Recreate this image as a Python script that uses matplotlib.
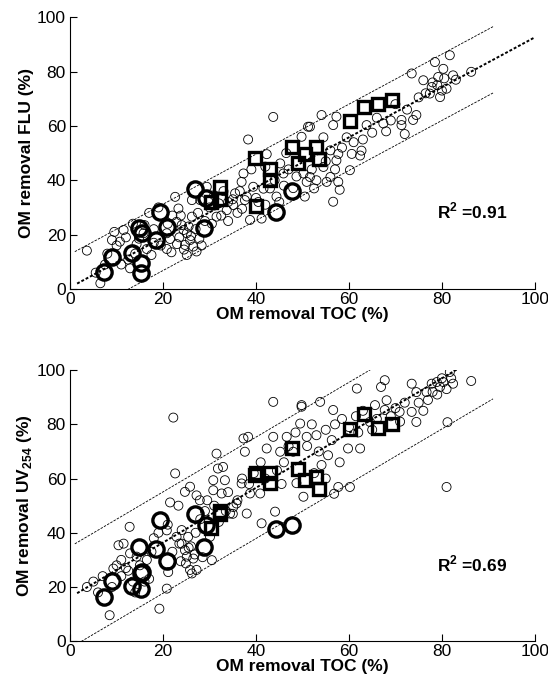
import numpy as np
import matplotlib
matplotlib.use("Agg")
import matplotlib.pyplot as plt

plt.rcParams['font.family'] = ['Liberation Sans', 'DejaVu Sans']
plt.rcParams['mathtext.fontset'] = 'custom'
plt.rcParams['mathtext.rm'] = 'Liberation Sans'
plt.rcParams['mathtext.bf'] = 'Liberation Sans:bold'

# --- background samples (small open circles) ---
fl_toc = [3.6, 6.5, 11.5, 9.0, 10.7, 12.9, 14.3, 16.5, 17.5, 20.8, 21.5, 22.6, 23.3, 22.9, 24.4, 24.7,
          25.1, 25.8, 26.2, 26.5, 27.2, 28.3, 25.1, 26.2, 28.0, 31.5, 33.7, 35.1, 35.5, 37.6, 38.7, 37.3,
          38.3, 36.9, 39.4, 41.2, 41.6, 42.3, 43.7, 45.2, 45.9, 44.4, 48.0, 48.7, 49.8, 51.2, 50.5, 50.9,
          50.2, 20.8, 29.4, 15.8, 12.5, 18.0, 19.5, 23.5, 24.0, 25.5, 27.0, 23.0, 13.5, 10.0, 8.0, 16.0,
          18.0, 22.0, 27.5, 30.0, 31.0, 32.5, 34.0, 36.0, 33.0, 38.0, 40.0, 42.0, 43.0, 44.0, 46.0, 47.0,
          52.0, 45.0, 36.5, 39.0, 42.0, 46.5, 34.0, 30.5, 21.0, 19.0, 17.0, 14.0, 11.0, 7.5, 5.5,
          56.6, 60.2, 57.7, 56.0, 55.2, 51.6, 54.5, 57.3, 57.7, 60.6, 62.4, 62.7, 59.5, 54.5, 57.3, 56.6,
          54.1, 51.6, 63.8, 67.4, 69.0, 71.3, 72.0, 71.3, 74.5, 73.8, 73.5, 76.0, 77.4, 77.8, 78.5, 79.2,
          79.6, 80.3, 81.0, 81.7, 82.4, 86.3, 78.0, 79.0, 80.5, 76.5, 75.0, 80.0, 83.0, 58.5, 61.0, 65.0,
          68.0, 66.0, 70.0, 72.5, 63.0, 56.0, 55.0, 53.0, 58.0, 52.5, 57.0,
          24.5, 26.0, 27.8, 29.0, 21.8, 23.8, 32.0, 35.0, 37.0, 40.5, 12.0, 14.8, 9.5]
fl_flu = [14.1, 2.1, 21.7, 18.0, 17.4, 7.6, 16.5, 14.7, 12.5, 14.7, 18.4, 33.9, 29.6, 24.7, 21.7, 16.2,
          12.5, 18.0, 26.6, 15.6, 13.8, 16.0, 20.5, 32.7, 32.7, 26.6, 29.0, 30.9, 35.2, 32.7, 25.4, 42.5,
          55.0, 39.4, 37.6, 25.9, 36.9, 49.6, 63.3, 46.2, 42.5, 34.0, 37.1, 41.4, 56.0, 59.7, 34.0, 39.4,
          42.5, 20.5, 37.6, 20.5, 10.8, 17.0, 16.0, 19.0, 23.5, 23.0, 22.0, 16.5, 24.0, 16.0, 13.0, 23.5,
          22.0, 27.0, 28.0, 30.0, 34.5, 27.0, 32.0, 28.0, 36.0, 34.0, 33.5, 31.0, 37.0, 40.0, 38.0, 44.0,
          44.0, 32.0, 36.0, 44.0, 45.0, 50.0, 25.0, 24.0, 24.0, 30.0, 28.0, 13.0, 9.0, 9.0, 6.0,
          32.1, 43.7, 39.4, 41.2, 39.4, 41.2, 44.9, 47.3, 49.7, 49.7, 49.1, 50.9, 55.8, 55.8, 63.4, 60.3,
          64.0, 59.7, 60.3, 60.9, 62.0, 62.2, 57.0, 60.3, 64.0, 62.2, 79.3, 76.8, 71.9, 74.3, 83.5, 78.0,
          70.6, 81.0, 73.7, 86.0, 78.6, 79.9, 76.0, 75.0, 77.5, 72.0, 70.5, 73.0, 77.0, 52.0, 54.0, 57.5,
          58.0, 63.0, 68.0, 66.0, 55.0, 51.0, 47.0, 40.0, 36.5, 37.0, 44.0,
          14.5, 19.5, 18.5, 25.0, 13.5, 27.0, 31.5, 33.0, 29.5, 32.0, 19.0, 18.5, 21.0]

uv_toc = [3.6, 8.5, 9.3, 10.4, 11.5, 12.8, 12.9, 14.3, 19.2, 20.8, 21.1, 21.5, 22.2, 22.6, 20.8, 23.3,
          24.7, 25.8, 22.9, 24.7, 25.1, 24.9, 25.8, 26.2, 27.2, 26.5, 25.4, 27.2, 27.9, 30.8, 31.5, 31.8,
          32.9, 33.3, 30.8, 32.6, 30.1, 30.5, 34.4, 35.1, 35.8, 36.9, 37.3, 38.3, 37.6, 38.0, 38.7, 40.9,
          41.2, 42.3, 43.7, 43.7, 44.1, 45.2, 46.6, 48.0, 48.7, 49.5, 49.8, 50.2, 50.9,
          5.0, 7.0, 10.0, 11.0, 12.0, 13.5, 15.0, 16.5, 17.0, 18.0, 19.0, 21.0, 22.0, 23.5, 24.0, 26.0,
          27.0, 28.0, 29.0, 29.5, 31.0, 32.0, 33.5, 34.0, 36.0, 37.0, 38.5, 39.5, 41.0, 42.0, 44.5, 45.5,
          46.0, 47.0, 48.5, 14.0, 16.0, 9.0, 6.0, 17.5,
          49.8, 53.8, 54.1, 56.3, 56.6, 57.7, 60.2, 55.5, 59.8, 62.4, 61.7, 64.5, 65.6, 66.9, 67.7, 68.1,
          67.7, 70.9, 73.5, 74.5, 73.5, 74.5, 76.7, 77.8, 78.9, 79.6, 80.3, 81.7, 82.4, 86.3, 81.0, 81.2,
          56.8, 52.0, 53.0, 55.0, 57.0, 58.5, 60.0, 61.5, 63.0, 62.0, 65.0, 66.0, 69.0, 70.0, 72.0, 71.0,
          75.0, 76.0, 77.0, 78.0, 80.0, 81.0, 82.0, 79.0, 53.5, 58.0, 51.0, 52.5, 55.0,
          24.0, 25.5, 26.8, 23.8, 28.5, 12.5, 11.0, 35.0]
uv_uv = [20.0, 9.6, 26.8, 35.4, 36.0, 42.2, 32.4, 31.2, 12.0, 19.4, 25.5, 51.2, 82.5, 61.9, 40.9, 50.0,
         55.1, 57.0, 38.5, 33.6, 31.2, 28.7, 26.3, 25.0, 26.3, 30.5, 38.5, 53.8, 52.0, 55.7, 69.2, 63.7,
         64.3, 59.4, 59.4, 54.5, 38.5, 29.9, 47.1, 49.5, 50.8, 58.2, 74.8, 75.4, 69.9, 47.1, 54.5, 54.5,
         43.5, 71.1, 88.3, 75.4, 47.8, 69.9, 75.4, 69.9, 58.3, 80.3, 86.5, 53.3, 75.4,
         22.0, 24.0, 28.0, 24.0, 27.0, 22.0, 28.0, 30.0, 23.0, 38.0, 40.0, 43.0, 33.0, 36.0, 41.0, 35.0,
         40.0, 45.0, 48.0, 52.0, 50.0, 44.0, 48.0, 55.0, 52.0, 60.0, 58.0, 62.0, 66.0, 60.0, 63.0, 58.0,
         66.0, 72.0, 77.0, 18.0, 22.0, 20.0, 18.0, 33.0,
         87.1, 88.3, 65.0, 74.2, 85.3, 56.9, 56.9, 68.6, 71.1, 71.1, 93.2, 80.9, 87.1, 93.8, 96.3, 88.9,
         85.3, 84.6, 84.6, 80.9, 95.0, 91.9, 91.9, 95.0, 95.6, 93.8, 95.6, 99.3, 95.0, 96.0, 56.9, 80.8,
         54.4, 80.0, 76.0, 78.0, 80.0, 82.0, 79.0, 83.0, 85.0, 77.0, 78.0, 82.0, 83.0, 86.0, 88.0, 81.0,
         88.0, 85.0, 89.0, 92.0, 97.0, 93.0, 97.0, 91.0, 70.0, 66.0, 72.0, 62.0, 60.0,
         36.0, 34.5, 32.0, 29.5, 31.0, 26.0, 30.0, 47.0]

# --- highlighted samples (bold circles) ---
circ_toc = [7.2, 9.1, 13.3, 14.8, 15.4, 15.3, 15.3, 18.5, 19.4, 20.9, 26.9, 29.2, 28.8, 44.4, 47.7]
circ_flu = [6.4, 11.9, 13.4, 22.3, 20.5, 9.4, 6.0, 18.0, 28.2, 22.9, 36.6, 33.6, 22.5, 28.2, 36.1]
circ_uv = [16.3, 22.3, 20.4, 34.8, 25.6, 25.0, 19.4, 34.2, 44.6, 29.5, 46.9, 42.8, 34.8, 41.3, 42.8]

# --- highlighted samples (bold squares) ---
sq_toc = [32.3, 32.3, 30.3, 39.8, 43.0, 43.0, 40.1, 47.8, 49.1, 50.6, 53.0, 53.5, 60.3, 63.2, 66.3, 69.3]
sq_flu = [37.6, 33.1, 32.1, 48.3, 44.0, 40.1, 30.6, 52.3, 46.2, 49.8, 52.3, 47.7, 61.8, 67.0, 67.9, 69.7]
sq_uv = [46.9, 48.0, 41.6, 61.3, 61.9, 58.4, 62.0, 71.1, 63.4, 59.4, 60.6, 56.3, 78.2, 84.0, 78.8, 80.1]

# regression: slope, intercept, half-width of band
fit_flu = (0.92, 0.6, 12.2)
fit_uv = (1.01, 16.2, 18.7)
r2_flu = 0.91
r2_uv = 0.69

FS = 12.5

fig = plt.figure(figsize=(5.48, 6.88), dpi=100)
ax1 = fig.add_axes([0.128, 0.580, 0.848, 0.395])
ax2 = fig.add_axes([0.128, 0.068, 0.848, 0.394])


def panel(ax, xs, ys, cy, sy, fit, r2, ylabel):
    ax.scatter(xs, ys, s=42, facecolors='none', edgecolors='black', linewidths=0.6, zorder=2)
    ax.plot(circ_toc, cy, 'o', ms=11, mfc='none', mec='black', mew=2.4, zorder=3)
    ax.plot(sq_toc, sy, 's', ms=8.5, mfc='none', mec='black', mew=2.4, zorder=3)
    k, b, w = fit
    xr = np.array([1.5, 100])
    ax.plot(xr, k * xr + b, color='black', lw=1.4, ls=(0, (1.5, 1)), zorder=4)
    xb = np.array([1.0, 91.0])
    ax.plot(xb, k * xb + b + w, color='black', lw=0.6, ls=(0, (3, 1.5)), zorder=1)
    ax.plot(xb, k * xb + b - w, color='black', lw=0.6, ls=(0, (3, 1.5)), zorder=1)
    ax.set_xlim(0, 100)
    ax.set_ylim(0, 100)
    ax.set_xticks(range(0, 101, 20))
    ax.set_yticks(range(0, 101, 20))
    for s in ['top', 'right']:
        ax.spines[s].set_visible(False)
    ax.spines['left'].set_linewidth(0.8)
    ax.spines['bottom'].set_linewidth(0.8)
    ax.tick_params(direction='in', length=5, width=0.8, labelsize=FS)
    ax.tick_params(axis='x', pad=2)
    ax.tick_params(axis='y', pad=3)
    ax.set_xlabel('OM removal TOC (%)', fontsize=FS, fontweight='bold', labelpad=0)
    ax.set_ylabel(ylabel, fontsize=FS, fontweight='bold', labelpad=2)
    ax.text(79, 28.5, r'R$^{\mathbf{2}}$ =' + f'{r2:.2f}', fontsize=FS, fontweight='bold',
            ha='left', va='center')


panel(ax1, fl_toc, fl_flu, circ_flu, sq_flu, fit_flu, r2_flu, 'OM removal FLU (%)')
panel(ax2, uv_toc, uv_uv, circ_uv, sq_uv, fit_uv, r2_uv, r'OM removal UV$_{\mathbf{254}}$ (%)')

fig.savefig('out.png', dpi=100)
